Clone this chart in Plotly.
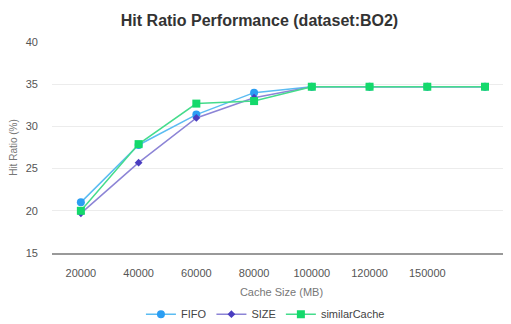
import plotly.graph_objects as go

cache_labels = ["20000", "40000", "60000", "80000", "100000", "120000", "150000", ""]
x_idx = list(range(len(cache_labels)))

fifo = [21.0, 27.8, 31.4, 34.0, 34.7, 34.7, 34.7, 34.7]
size = [19.7, 25.7, 31.0, 33.4, 34.7, 34.7, 34.7, 34.7]
similar = [20.0, 27.9, 32.7, 33.0, 34.7, 34.7, 34.7, 34.7]

fig = go.Figure()
fig.add_trace(go.Scatter(x=x_idx, y=fifo, name="FIFO", mode="lines+markers",
                         line=dict(color="#5bbcf2", width=1.5),
                         marker=dict(symbol="circle", size=8, color="#2b9ef3")))
fig.add_trace(go.Scatter(x=x_idx, y=size, name="SIZE", mode="lines+markers",
                         line=dict(color="#8c84d6", width=1.5),
                         marker=dict(symbol="diamond", size=6, color="#4a3dc0")))
fig.add_trace(go.Scatter(x=x_idx, y=similar, name="similarCache", mode="lines+markers",
                         line=dict(color="#45dc8c", width=1.5),
                         marker=dict(symbol="square", size=8, color="#14d96b")))

# page body has an 8px default margin, so the figure is sized 8px smaller
fig.update_layout(
    width=503, height=316,
    margin=dict(l=44, r=0, t=34, b=71, autoexpand=False),
    paper_bgcolor="white", plot_bgcolor="white",
    font=dict(family="Liberation Sans, Arial, sans-serif", size=11, color="#555"),
    title=dict(text="<b>Hit Ratio Performance (dataset:BO2)</b>", x=0.5, xanchor="center",
               y=0.962, yanchor="middle", font=dict(size=16, color="#333")),
    showlegend=True,
    legend=dict(orientation="h", x=0.465, xanchor="center", y=-0.29, yanchor="middle",
                font=dict(size=11, color="#444"), itemwidth=30),
    xaxis=dict(tickmode="array", tickvals=x_idx, ticktext=cache_labels,
               range=[-0.5, 7.45], showgrid=False, zeroline=False, automargin=False,
               showline=True, linecolor="#999", linewidth=1.5,
               ticks="", ticklabelstandoff=9,
               tickfont=dict(size=11, color="#555"),
               title=dict(text="Cache Size (MB)", standoff=10, font=dict(size=11, color="#777"))),
    yaxis=dict(range=[15, 40], tickvals=[15, 20, 25, 30, 35, 40], showgrid=True,
               gridcolor="#ececec", gridwidth=1, zeroline=False, showline=False, automargin=False,
               ticks="", ticklabelstandoff=13,
               tickfont=dict(size=11, color="#555"),
               title=dict(text="Hit Ratio (%)", standoff=6, font=dict(size=10, color="#777"))),
)

fig.write_html("out.html")
